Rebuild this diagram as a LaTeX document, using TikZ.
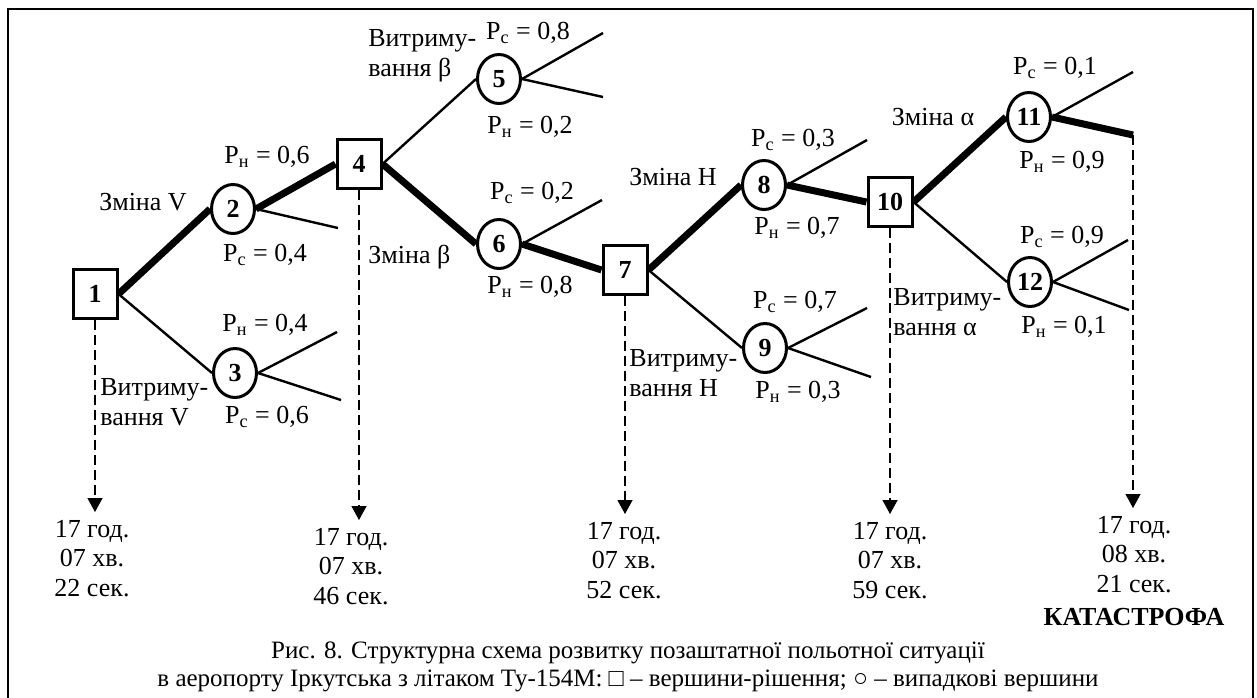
\documentclass[tikz,border=0pt]{standalone}
\usepackage{fontspec}
\setmainfont{Liberation Serif}
\usetikzlibrary{arrows.meta,shapes.geometric,positioning}

\tikzset{
  decision/.style={draw, fill=white, line width=1.5pt, minimum width=22pt, minimum height=24.5pt,
    inner sep=0pt, font=\fontsize{13}{15}\selectfont\bfseries},
  chance/.style={ellipse, draw, fill=white, line width=1.5pt, minimum width=21.5pt, minimum height=24.5pt,
    inner sep=0pt, font=\fontsize{13}{15}\selectfont\bfseries},
  branch/.style={line width=1.2pt},
  bestpath/.style={line width=3.5pt},
  timeline/.style={line width=0.6pt, dash pattern=on 5pt off 2.5pt, -{Triangle[width=7.5pt,length=7pt]}},
  lbl/.style={inner sep=0pt, font=\fontsize{13}{15}\selectfont},
  timebox/.style={anchor=north, align=center, inner sep=0pt, outer sep=4pt, font=\fontsize{13}{14.8}\selectfont},
}

\begin{document}
\begin{tikzpicture}[x=0.5pt, y=-0.5pt]
    \useasboundingbox (0,0) rectangle (1257,697);
    % frame, open at the bottom
    \draw[line width=1pt] (8,700) -- (8,9) -- (1253,9) -- (1253,700);

    % decision nodes (squares) and chance nodes (circles)
    \node[decision] (n1) at (95,294) {1};
    \node[chance] (n2) at (233,209) {2};
    \node[chance] (n3) at (235,373) {3};
    \node[decision] (n4) at (359,164) {4};
    \node[chance] (n5) at (499,79) {5};
    \node[chance] (n6) at (499,244) {6};
    \node[decision] (n7) at (625,270) {7};
    \node[chance] (n8) at (764,185) {8};
    \node[chance] (n9) at (765,348) {9};
    \node[decision] (n10) at (890,202) {10};
    \node[chance] (n11) at (1029,117) {11};
    \node[chance] (n12) at (1030,282) {12};

    % open ends of branches
    \coordinate (e2) at (338,228);
    \coordinate (e3a) at (337,332);
    \coordinate (e3b) at (341,400);
    \coordinate (e5a) at (603,33);
    \coordinate (e5b) at (603,97);
    \coordinate (e6) at (602,200);
    \coordinate (e8) at (867,140);
    \coordinate (e9a) at (867,308);
    \coordinate (e9b) at (871,377);
    \coordinate (e11a) at (1133,72);
    \coordinate (e11b) at (1133,135);
    \coordinate (e12a) at (1128,240);
    \coordinate (e12b) at (1129,310);

    % branches
    \draw[bestpath] (n1.east) -- (n2.west);
    \draw[branch] (n1.east) -- (n3.west);
    \draw[bestpath] (n2.east) -- (n4.west);
    \draw[branch] (n2.east) -- (e2);
    \draw[branch] (n3.east) -- (e3a);
    \draw[branch] (n3.east) -- (e3b);
    \draw[branch] (n4.east) -- (n5.west);
    \draw[bestpath] (n4.east) -- (n6.west);
    \draw[branch] (n5.east) -- (e5a);
    \draw[branch] (n5.east) -- (e5b);
    \draw[branch] (n6.east) -- (e6);
    \draw[bestpath] (n6.east) -- (n7.west);
    \draw[bestpath] (n7.east) -- (n8.west);
    \draw[branch] (n7.east) -- (n9.west);
    \draw[branch] (n8.east) -- (e8);
    \draw[bestpath] (n8.east) -- (n10.west);
    \draw[branch] (n9.east) -- (e9a);
    \draw[branch] (n9.east) -- (e9b);
    \draw[bestpath] (n10.east) -- (n11.west);
    \draw[branch] (n10.east) -- (n12.west);
    \draw[branch] (n11.east) -- (e11a);
    \draw[bestpath] (n11.east) -- (e11b);
    \draw[branch] (n12.east) -- (e12a);
    \draw[branch] (n12.east) -- (e12b);

    % branch labels
    \node[lbl] (l12) at (143,202) {Зміна V};
    \node[lbl, anchor=west, align=left] (l13) at (100,402) {Витриму-\\вання V};
    \node[lbl] (p2a) at (267,157) {P\textsubscript{н} = 0,6};
    \node[lbl] (p2b) at (265,255) {P\textsubscript{с} = 0,4};
    \node[lbl] (p3a) at (265,325) {P\textsubscript{н} = 0,4};
    \node[lbl] (p3b) at (267,417) {P\textsubscript{с} = 0,6};
    \node[lbl, anchor=west, align=left] (l45) at (368,56) {Витриму-\\вання β};
    \node[lbl, anchor=west] (l46) at (368,257) {Зміна β};
    \node[lbl] (p5a) at (528,33) {P\textsubscript{с} = 0,8};
    \node[lbl] (p5b) at (530,127) {P\textsubscript{н} = 0,2};
    \node[lbl] (p6a) at (532,193) {P\textsubscript{с} = 0,2};
    \node[lbl] (p6b) at (530,287) {P\textsubscript{н} = 0,8};
    \node[lbl] (l78) at (673,177) {Зміна H};
    \node[lbl, anchor=west, align=left] (l79) at (629,373) {Витриму-\\вання H};
    \node[lbl] (p8a) at (793,140) {P\textsubscript{с} = 0,3};
    \node[lbl] (p8b) at (797,228) {P\textsubscript{н} = 0,7};
    \node[lbl] (p9a) at (795,302) {P\textsubscript{с} = 0,7};
    \node[lbl] (p9b) at (798,392) {P\textsubscript{н} = 0,3};
    \node[lbl] (l1011) at (933,117) {Зміна α};
    \node[lbl, anchor=west, align=left] (l1012) at (893,312) {Витриму-\\вання α};
    \node[lbl] (p11a) at (1055,68) {P\textsubscript{с} = 0,1};
    \node[lbl] (p11b) at (1062,162) {P\textsubscript{н} = 0,9};
    \node[lbl] (p12a) at (1062,237) {P\textsubscript{с} = 0,9};
    \node[lbl] (p12b) at (1064,327) {P\textsubscript{н} = 0,1};

    % moments of time
    \node[timebox] (t1) at (92,512) {17 год.\\07 хв.\\22 сек.};
    \node[timebox] (t2) at (351,520) {17 год.\\07 хв.\\46 сек.};
    \node[timebox] (t3) at (624,514) {17 год.\\07 хв.\\52 сек.};
    \node[timebox] (t4) at (890,514) {17 год.\\07 хв.\\59 сек.};
    \node[timebox] (t5) at (1134,508) {17 год.\\08 хв.\\21 сек.};
    \node[lbl, font=\fontsize{13}{15}\selectfont\bfseries] (crash) at (1134,617) {КАТАСТРОФА};

    \draw[timeline] (n1.south) -- (n1.south |- t1.north);
    \draw[timeline] (n4.south) -- (n4.south |- t2.north);
    \draw[timeline] (n7.south) -- (n7.south |- t3.north);
    \draw[timeline] (n10.south) -- (n10.south |- t4.north);
    \draw[timeline] (e11b) -- (e11b |- t5.north);

    % caption
    \node[lbl, align=center, font=\fontsize{12.5}{14}\selectfont] (caption) at (628,667)
        {Рис. 8. Структурна схема розвитку позаштатної польотної ситуації\\
         в аеропорту Іркутська з літаком Ту-154М: □ – вершини-рішення; ○ – випадкові вершини};
\end{tikzpicture}
\end{document}
